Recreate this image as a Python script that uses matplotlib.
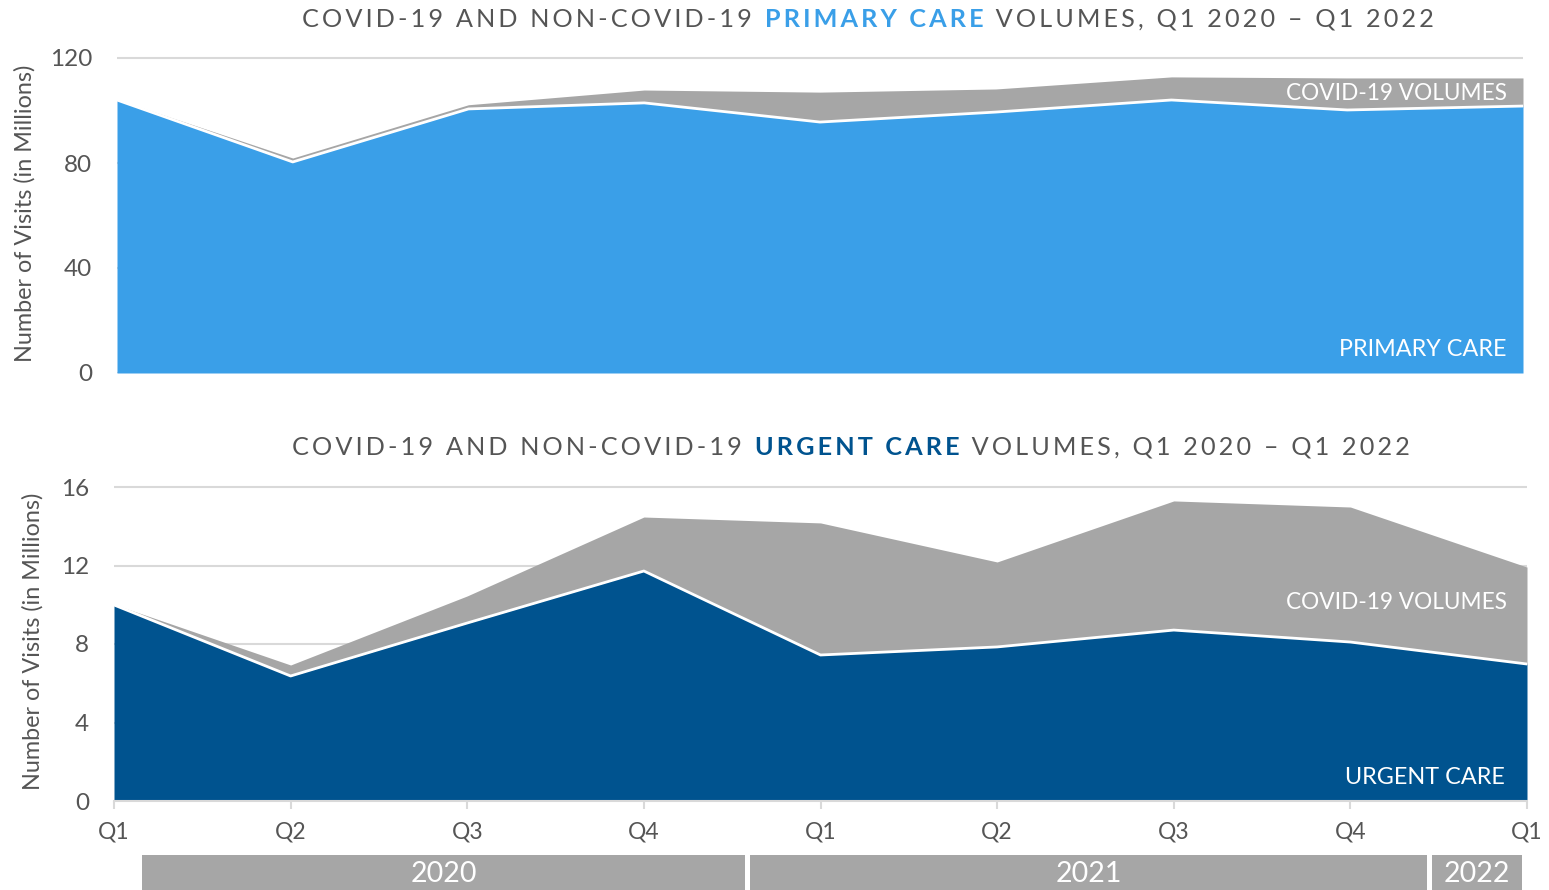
import matplotlib
matplotlib.use("Agg")
import matplotlib.pyplot as plt
import matplotlib.transforms as mtransforms

plt.rcParams['font.family'] = ['Lato', 'DejaVu Sans']

# quarters Q1 2020 .. Q1 2022
quarters = ['Q1', 'Q2', 'Q3', 'Q4', 'Q1', 'Q2', 'Q3', 'Q4', 'Q1']
years = ['2020', '2021', '2022']

# millions of visits
primary_non_covid = [104.0, 80.4, 100.6, 102.9, 95.6, 99.4, 104.0, 100.2, 101.7]
primary_covid = [0.2, 1.5, 1.6, 4.9, 11.4, 8.8, 8.8, 12.2, 10.7]
urgent_non_covid = [9.99, 6.37, 9.07, 11.72, 7.44, 7.85, 8.71, 8.10, 6.98]
urgent_covid = [0.03, 0.56, 1.38, 2.75, 6.73, 4.33, 6.58, 6.88, 4.94]

BLUE = '#3a9fe8'
NAVY = '#00538f'
GREY = '#a6a6a6'
TXT = '#555555'
GRIDC = '#d9d9d9'
SP = '\u2009'

x = list(range(len(quarters)))

fig = plt.figure(figsize=(15.49, 8.90), dpi=100)
W, H = 1549, 890


def px_axes(left, right, top, bottom):
    return fig.add_axes([left / W, 1 - bottom / H, (right - left) / W, (bottom - top) / H])


def spaced(s):
    return SP.join(s)


def draw_panel(ax, base, covid, color, ymax, ticks):
    total = [b + c for b, c in zip(base, covid)]
    ax.fill_between(x, 0, base, color=color, lw=0, zorder=2)
    ax.fill_between(x, base, total, color=GREY, lw=0, zorder=2)
    ax.plot(x, base, color='white', lw=2, zorder=3)
    ax.set_xlim(0, len(x) - 1)
    ax.set_ylim(0, ymax)
    ax.set_yticks(ticks)
    ax.set_yticklabels([str(t) for t in ticks])
    ax.grid(axis='y', color=GRIDC, lw=1.5, zorder=0)
    ax.set_axisbelow(True)
    for s in ax.spines.values():
        s.set_visible(False)
    ax.tick_params(axis='y', length=0, pad=18, labelsize=17.5, labelcolor=TXT)
    ax.set_ylabel('Number of Visits (in Millions)', fontsize=16.8, color=TXT)


def title(x0, y0, bold, bcolor):
    parts = [('COVID-19 AND NON-COVID-19 ', TXT, 'normal'),
             (bold, bcolor, 'bold'),
             (' VOLUMES, Q1 2020 \u2013 Q1 2022', TXT, 'normal')]
    last = None
    for txt, c, w in parts:
        t = spaced(txt)
        if last is None:
            last = fig.text(x0 / W, 1 - y0 / H, t + SP, fontsize=18.2, color=c,
                            fontweight=w, va='bottom', ha='left')
        else:
            last = fig.axes[0].annotate(t + SP, xy=(1, 0), xycoords=last, fontsize=18.2,
                                        color=c, fontweight=w, va='bottom',
                                        ha='left', annotation_clip=False)


# top panel
ax1 = px_axes(117, 1523, 373 - 122 * 2.625, 373)
draw_panel(ax1, primary_non_covid, primary_covid, BLUE, 122, [0, 40, 80, 120])
ax1.set_xticks([])
ax1.yaxis.set_label_coords(-0.058, 0.5)
tr1 = mtransforms.blended_transform_factory(ax1.transAxes, ax1.transData)
ax1.text(0.9886, 106.3, 'COVID-19 VOLUMES', transform=tr1, ha='right', va='center',
         color='white', fontsize=16.3)
ax1.text(0.9886, 9.1, 'PRIMARY CARE', transform=tr1, ha='right', va='center',
         color='white', fontsize=16.8)

# bottom panel
ax2 = px_axes(114, 1527, 801 - 16.3 * 19.625, 801)
draw_panel(ax2, urgent_non_covid, urgent_covid, NAVY, 16.3, [0, 4, 8, 12, 16])
ax2.set_xticks(x)
ax2.set_xticklabels(quarters)
ax2.spines['bottom'].set_visible(True)
ax2.spines['bottom'].set_color(GRIDC)
ax2.spines['bottom'].set_linewidth(1.5)
ax2.tick_params(axis='x', length=6, width=1.5, color=GRIDC, labelsize=16.5,
                labelcolor=TXT, pad=9)
ax2.yaxis.set_label_coords(-0.05, 0.5)
tr2 = mtransforms.blended_transform_factory(ax2.transAxes, ax2.transData)
ax2.text(0.986, 10.1, 'COVID-19 VOLUMES', transform=tr2, ha='right', va='center',
         color='white', fontsize=16.3)
ax2.text(0.9845, 1.22, 'URGENT CARE', transform=tr2, ha='right', va='center',
         color='white', fontsize=16.8)

# titles
title(302, 31, 'PRIMARY CARE', BLUE)
title(292, 459, 'URGENT CARE', NAVY)

# year band
axy = px_axes(0, W, 855, 890)
axy.set_xlim(0, W)
axy.set_ylim(0, 1)
axy.axis('off')
year_spans = [(142, 745), (750, 1427), (1432, 1522)]
for yr, (a, b) in zip(years, year_spans):
    axy.axvspan(a, b, color=GREY, lw=0)
    axy.text((a + b) / 2, 0.45, yr, ha='center', va='center', color='white', fontsize=20.5)

fig.savefig('out.png', dpi=100)
